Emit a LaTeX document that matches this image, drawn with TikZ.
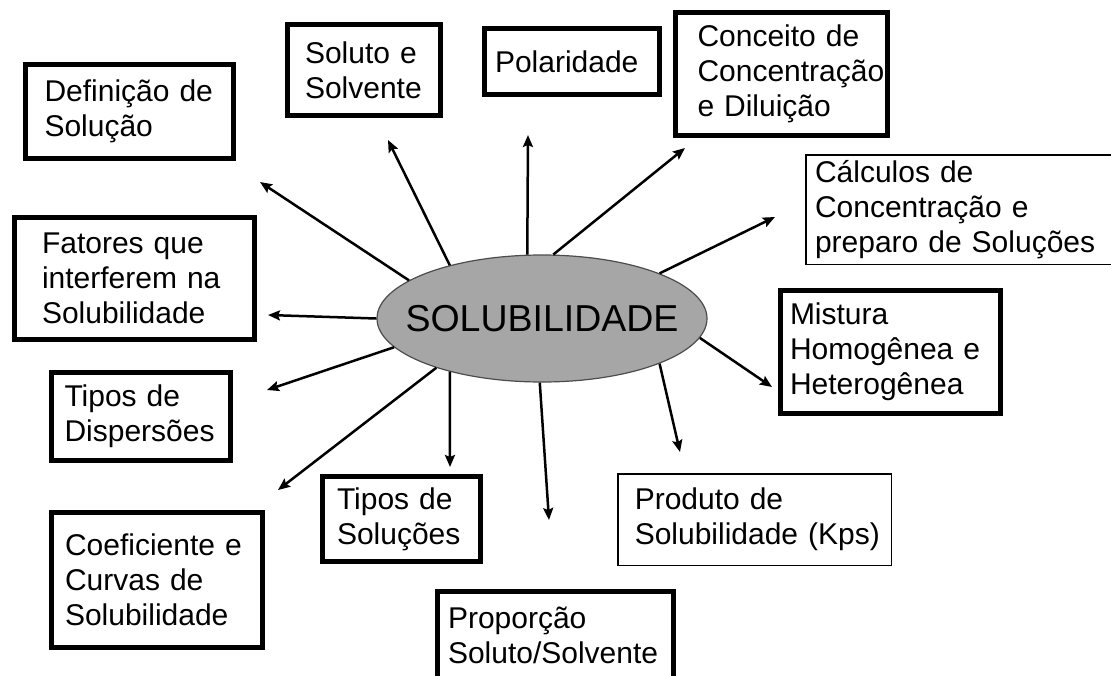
\documentclass[tikz,border=0pt]{standalone}
\usepackage{fontspec}
\setmainfont{Liberation Sans}
\usetikzlibrary{arrows.meta}
\usetikzlibrary{shapes.geometric}
\definecolor{cinzaelipse}{RGB}{166,166,166}
\newcommand{\fonte}[1][30]{\fontsize{#1}{35}\selectfont\hyphenpenalty=10000\exhyphenpenalty=10000}

\begin{document}
\begin{tikzpicture}[x=1pt, y=-1pt,
  caixa/.style={draw, line width=5pt, align=left, inner ysep=0pt, font=\fonte},
  caixafina/.style={caixa, line width=1.5pt},
  seta/.style={line width=2.5pt, -{Stealth[length=12pt, width=10pt, inset=2pt]}}]
\useasboundingbox (0,0) rectangle (1111,675);
% centro
\node[ellipse, draw=black!70, line width=1.2pt, fill=cinzaelipse, minimum width=330pt, minimum height=127pt, inner sep=0pt, font=\fontsize{37.5}{40}\selectfont] (sol) at (542,318.5) {\makebox[0pt]{SOLUBILIDADE}};
% caixas
\node[caixa, inner xsep=19pt, text width=170pt, minimum height=94pt] (def) at (129.5,111.5) {Definição~de\\Solução};
\node[caixa, inner xsep=27.5pt, text width=185pt, minimum height=122pt] (fat) at (134.5,278.5) {Fatores que\\interferem na\\Solubilidade};
\node[caixa, inner xsep=17.5pt, text width=118pt, minimum height=91pt] (slv) at (364,70) {Soluto~e\\Solvente};
\node[caixa, inner xsep=10.5pt, text width=154pt, minimum height=66pt] (pol) at (572,61.5) {Polaridade};
\node[caixa, inner xsep=22pt, text width=168pt, minimum height=123pt] (con) at (781.5,74) {Conceito~de\\Concentração\\e~Diluição};
\node[caixafina, inner xsep=9.25pt, text width=290pt, minimum height=109.5pt] (cal) at (960,209.5) {Cálculos de\\Concentração e\\preparo de Soluções};
\node[caixa, inner xsep=9.5pt, text width=201pt, minimum height=123pt] (mis) at (890.5,352) {Mistura\\Homogênea~e\\Heterogênea};
\node[caixafina, inner xsep=17pt, text width=239.5pt, minimum height=91.5pt] (prd) at (754.5,519.5) {Produto de\\Solubilidade~(Kps)};
\node[caixa, inner xsep=13pt, text width=153pt, minimum height=88pt] (dsp) at (141,416.5) {Tipos~de\\Dispersões};
\node[caixa, inner xsep=13.5pt, text width=184pt, minimum height=135pt] (coe) at (157,580) {Coeficiente~e\\Curvas~de\\Solubilidade};
\node[caixa, inner xsep=14.5pt, text width=129pt, minimum height=85pt] (tps) at (401.5,519) {Tipos~de\\Soluções};
\node[caixa, inner xsep=10.5pt, text width=215pt, minimum height=87.5pt] (prp) at (555.5,635.25) {Proporção\\Soluto/Solvente};
% pontas das setas
\coordinate (pDef) at (260,182);
\coordinate (pSlv) at (388,140);
\coordinate (pPol) at (528,135);
\coordinate (pCon) at (685,148);
\coordinate (pCal) at (775,217);
\coordinate (pMis) at (772,387);
\coordinate (pPrd) at (680,452);
\coordinate (pPrp) at (549,520);
\coordinate (pTps) at (450,467);
\coordinate (pCoe) at (278,490);
\coordinate (pDsp) at (267,390);
\coordinate (pFat) at (268,315);
\foreach \ang/\alvo in {164/pDef, 150/pSlv, 103/pPol, 80/pCon, 21/pCal, 353/pMis, 339/pPrd, 268/pPrp, 210/pTps, 205/pCoe, 191/pDsp, 180/pFat} {
  \draw[seta] (sol.\ang) -- (\alvo);
}
\end{tikzpicture}
\end{document}
